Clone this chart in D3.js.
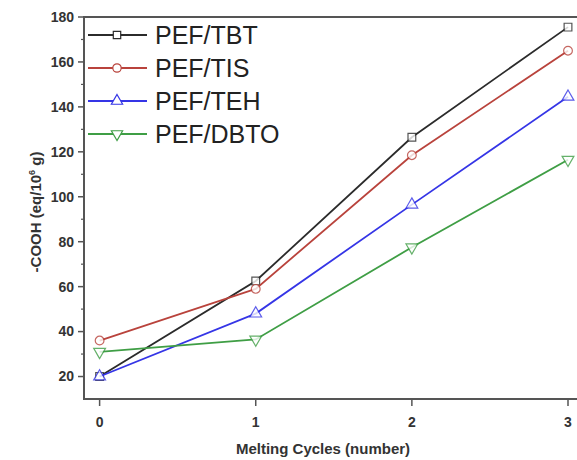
<!DOCTYPE html>
<html>
<head>
<meta charset="utf-8">
<script src="https://cdn.jsdelivr.net/npm/d3@7"></script>
<style>
  body { margin: 0; background: #fff; }
  svg { display: block; font-family: "Liberation Sans", Arial, sans-serif; }
</style>
</head>
<body>
<svg id="chart" width="577" height="460"></svg>
<script>
    // melting cycles on x, -COOH content on y
    var cycles = [0, 1, 2, 3];
    var tbt = [20, 62.5, 126.5, 175.5];
    var tis = [36, 59, 118.5, 165];
    var teh = [20, 48, 96.5, 144.5];
    var dbto = [31, 36.5, 77.5, 116.5];
    var seriesNames = ["PEF/TBT", "PEF/TIS", "PEF/TEH", "PEF/DBTO"];
    var yTicks = [20, 40, 60, 80, 100, 120, 140, 160, 180];

    (function () {
        var series = [
            { name: seriesNames[0], values: tbt, color: "#2b2b2b", symbol: d3.symbolSquare },
            { name: seriesNames[1], values: tis, color: "#b9433c", symbol: d3.symbolCircle },
            { name: seriesNames[2], values: teh, color: "#3535e6", symbol: d3.symbolTriangle },
            { name: seriesNames[3], values: dbto, color: "#3f9e45", symbol: "down" }
        ];

        var svg = d3.select("#chart"),
            plotL = 84, plotR = 580, plotT = 17, plotB = 399;

        var x = d3.scaleLinear().domain([-0.1, 3.0]).range([plotL, 568]);
        var y = d3.scaleLinear().domain([10, 180]).range([plotB, plotT]);

        // frame: left, top, bottom
        svg.append("path")
            .attr("d", "M" + plotR + "," + plotT + "H" + plotL + "V" + plotB + "H" + plotR)
            .attr("fill", "none").attr("stroke", "#555").attr("stroke-width", 2);

        // y axis ticks
        var yAxis = svg.append("g").attr("transform", "translate(" + plotL + ",0)");
        yAxis.selectAll("line.major").data(yTicks).enter().append("line")
            .attr("x1", -6).attr("x2", 0)
            .attr("y1", function (d) { return y(d); }).attr("y2", function (d) { return y(d); })
            .attr("stroke", "#555").attr("stroke-width", 1.5);
        yAxis.selectAll("line.minor").data(d3.range(30, 180, 20)).enter().append("line")
            .attr("x1", -3).attr("x2", 0)
            .attr("y1", function (d) { return y(d); }).attr("y2", function (d) { return y(d); })
            .attr("stroke", "#555").attr("stroke-width", 1.2);
        yAxis.selectAll("text").data(yTicks).enter().append("text")
            .attr("x", -10).attr("y", function (d) { return y(d); })
            .attr("dy", "0.35em").attr("text-anchor", "end")
            .attr("font-size", 14).attr("font-weight", "bold").attr("fill", "#333")
            .text(function (d) { return d; });

        // x axis ticks
        var xAxis = svg.append("g").attr("transform", "translate(0," + plotB + ")");
        xAxis.selectAll("line").data(cycles).enter().append("line")
            .attr("x1", function (d) { return x(d); }).attr("x2", function (d) { return x(d); })
            .attr("y1", 0).attr("y2", 7)
            .attr("stroke", "#555").attr("stroke-width", 1.5);
        xAxis.selectAll("text").data(cycles).enter().append("text")
            .attr("x", function (d) { return x(d); }).attr("y", 28)
            .attr("text-anchor", "middle")
            .attr("font-size", 14).attr("font-weight", "bold").attr("fill", "#333")
            .text(function (d) { return d; });

        // axis titles
        svg.append("text")
            .attr("x", 323).attr("y", 454).attr("text-anchor", "middle")
            .attr("font-size", 15).attr("font-weight", "bold").attr("fill", "#333")
            .text("Melting Cycles (number)");

        var yt = svg.append("text")
            .attr("transform", "translate(41,212) rotate(-90)")
            .attr("text-anchor", "middle")
            .attr("font-size", 15).attr("font-weight", "bold").attr("fill", "#333");
        yt.append("tspan").text("-COOH (eq/10");
        yt.append("tspan").attr("dy", -6).attr("font-size", 9).text("6");
        yt.append("tspan").attr("dy", 6).text(" g)");

        function symbolPath(s, size) {
            if (s === "down") {
                return d3.symbol(d3.symbolTriangle, size)();
            }
            return d3.symbol(s, size)();
        }

        var line = d3.line()
            .x(function (d, i) { return x(cycles[i]); })
            .y(function (d) { return y(d); });

        series.forEach(function (s) {
            svg.append("path")
                .attr("d", line(s.values))
                .attr("fill", "none").attr("stroke", s.color).attr("stroke-width", 1.8);
            svg.selectAll(null).data(s.values).enter().append("path")
                .attr("d", symbolPath(s.symbol, 60))
                .attr("transform", function (d, i) {
                    return "translate(" + x(cycles[i]) + "," + y(d) + ")" + (s.symbol === "down" ? " rotate(180)" : "");
                })
                .attr("fill", "#fff").attr("stroke", s.color).attr("stroke-width", 1.2).attr("opacity", 0.8);
        });

        // legend
        var legend = svg.append("g").selectAll("g").data(series).enter().append("g")
            .attr("transform", function (d, i) { return "translate(88," + (35 + i * 33) + ")"; });
        legend.append("line")
            .attr("x1", 0).attr("x2", 59).attr("y1", 0).attr("y2", 0)
            .attr("stroke", function (d) { return d.color; }).attr("stroke-width", 2);
        legend.append("path")
            .attr("d", function (d) { return symbolPath(d.symbol, 55); })
            .attr("transform", function (d) { return "translate(29,0)" + (d.symbol === "down" ? " rotate(180)" : ""); })
            .attr("fill", "#fff").attr("stroke", function (d) { return d.color; }).attr("stroke-width", 1.2);
        legend.append("text")
            .attr("x", 67).attr("y", 9)
            .attr("font-size", 25).attr("fill", "#222")
            .text(function (d) { return d.name; });
    })();
</script>
</body>
</html>
